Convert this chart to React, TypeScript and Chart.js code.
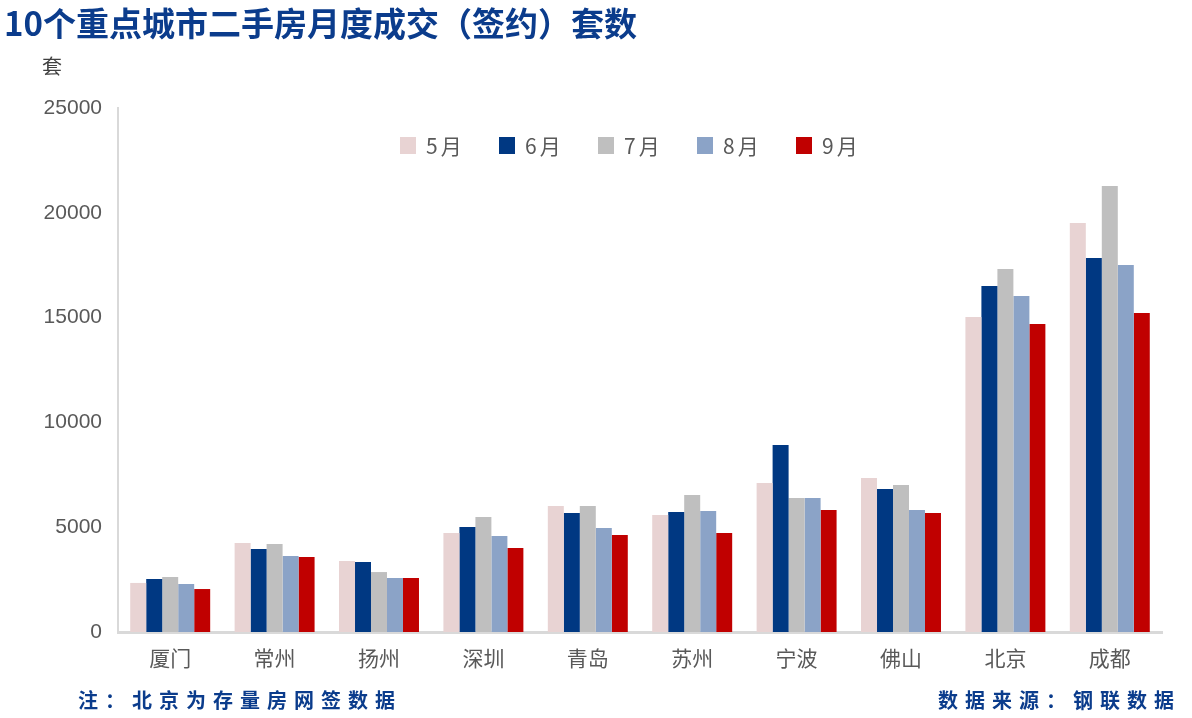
import React, { useEffect, useRef } from "react";
import { Chart, registerables } from "chart.js";

Chart.register(...registerables);

const categories = ["厦门", "常州", "扬州", "深圳", "青岛", "苏州", "宁波", "佛山", "北京", "成都"];
const seriesNames = ["5月", "6月", "7月", "8月", "9月"];
const may = [2340, 4250, 3390, 4720, 6010, 5580, 7110, 7350, 15030, 19510];
const jun = [2530, 3960, 3340, 5010, 5680, 5730, 8920, 6820, 16510, 17840];
const jul = [2620, 4200, 2860, 5490, 6010, 6540, 6390, 7010, 17320, 21280];
const aug = [2290, 3630, 2580, 4580, 4960, 5770, 6390, 5820, 16030, 17510];
const sep = [2050, 3580, 2580, 4010, 4630, 4720, 5820, 5680, 14690, 15220];
const seriesValues = [may, jun, jul, aug, sep];
const colors = ["#E8D3D3", "#003882", "#BFBFBF", "#8BA3C7", "#C00000"];
const yTicks = [0, 5000, 10000, 15000, 20000, 25000];

const CJK = '"Noto Sans CJK SC", "Noto Sans", sans-serif';

export default function App() {
  const ref = useRef<HTMLCanvasElement | null>(null);

  useEffect(() => {
    if (!ref.current) return;
    const chart = new Chart(ref.current, {
      type: "bar",
      data: {
        labels: categories,
        datasets: seriesNames.map((name, i) => ({
          label: name,
          data: seriesValues[i],
          backgroundColor: colors[i],
          borderWidth: 0,
          categoryPercentage: 0.766,
          barPercentage: 1.0,
        })),
      },
      options: {
        animation: false,
        responsive: false,
        maintainAspectRatio: false,
        layout: { padding: { top: 108, right: 30, bottom: 0, left: 0 } },
        plugins: {
          legend: { display: false },
          title: { display: false },
          tooltip: { enabled: false },
        },
        scales: {
          x: {
            grid: { display: false, drawTicks: false },
            border: { display: true, color: "#D9D9D9", width: 3 },
            ticks: {
              color: "#595959",
              font: { family: CJK, size: 21 },
              padding: 13,
            },
            afterFit: (s: any) => {
              s.height = 86;
            },
          },
          y: {
            min: 0,
            max: 25000,
            grid: { display: false, drawTicks: false },
            border: { display: true, color: "#D9D9D9", width: 2 },
            afterBuildTicks: (s: any) => {
              s.ticks = yTicks.map((v) => ({ value: v }));
            },
            ticks: {
              color: "#595959",
              font: { family: '"Liberation Sans", Arial, sans-serif', size: 21 },
              padding: 16,
              callback: (v: any) => String(v),
            },
            afterFit: (s: any) => {
              s.width = 118;
            },
          },
        },
      },
    });
    return () => chart.destroy();
  }, []);

  return (
    <div style={{ position: "absolute", left: 0, top: 0, width: 1192, height: 718, background: "#fff", overflow: "hidden" }}>
      <canvas ref={ref} width={1192} height={718} style={{ position: "absolute", left: 0, top: 0, width: 1192, height: 718 }} />
      <div style={{ position: "absolute", left: 4, top: 0, font: `bold 33px ${CJK}`, color: "#0B3C8C", whiteSpace: "nowrap", lineHeight: "44px" }}>
        10个重点城市二手房月度成交（签约）套数
      </div>
      <div style={{ position: "absolute", left: 42, top: 52, font: `20px ${CJK}`, color: "#404040", lineHeight: "28px" }}>套</div>
      {seriesNames.map((name, i) => (
        <div key={name} style={{ position: "absolute", left: 400 + i * 99, top: 131, height: 28, display: "flex", alignItems: "center" }}>
          <div style={{ width: 16, height: 17, background: colors[i], marginRight: 10 }} />
          <div style={{ font: `21px ${CJK}`, color: "#595959", letterSpacing: 3 }}>{name}</div>
        </div>
      ))}
      <div style={{ position: "absolute", left: 78, top: 686, font: `bold 20px ${CJK}`, color: "#0B3C8C", letterSpacing: 7, lineHeight: "28px", whiteSpace: "nowrap" }}>
        注：北京为存量房网签数据
      </div>
      <div style={{ position: "absolute", left: 938, top: 686, font: `bold 20px ${CJK}`, color: "#0B3C8C", letterSpacing: 7, lineHeight: "28px", whiteSpace: "nowrap" }}>
        数据来源：钢联数据
      </div>
    </div>
  );
}
